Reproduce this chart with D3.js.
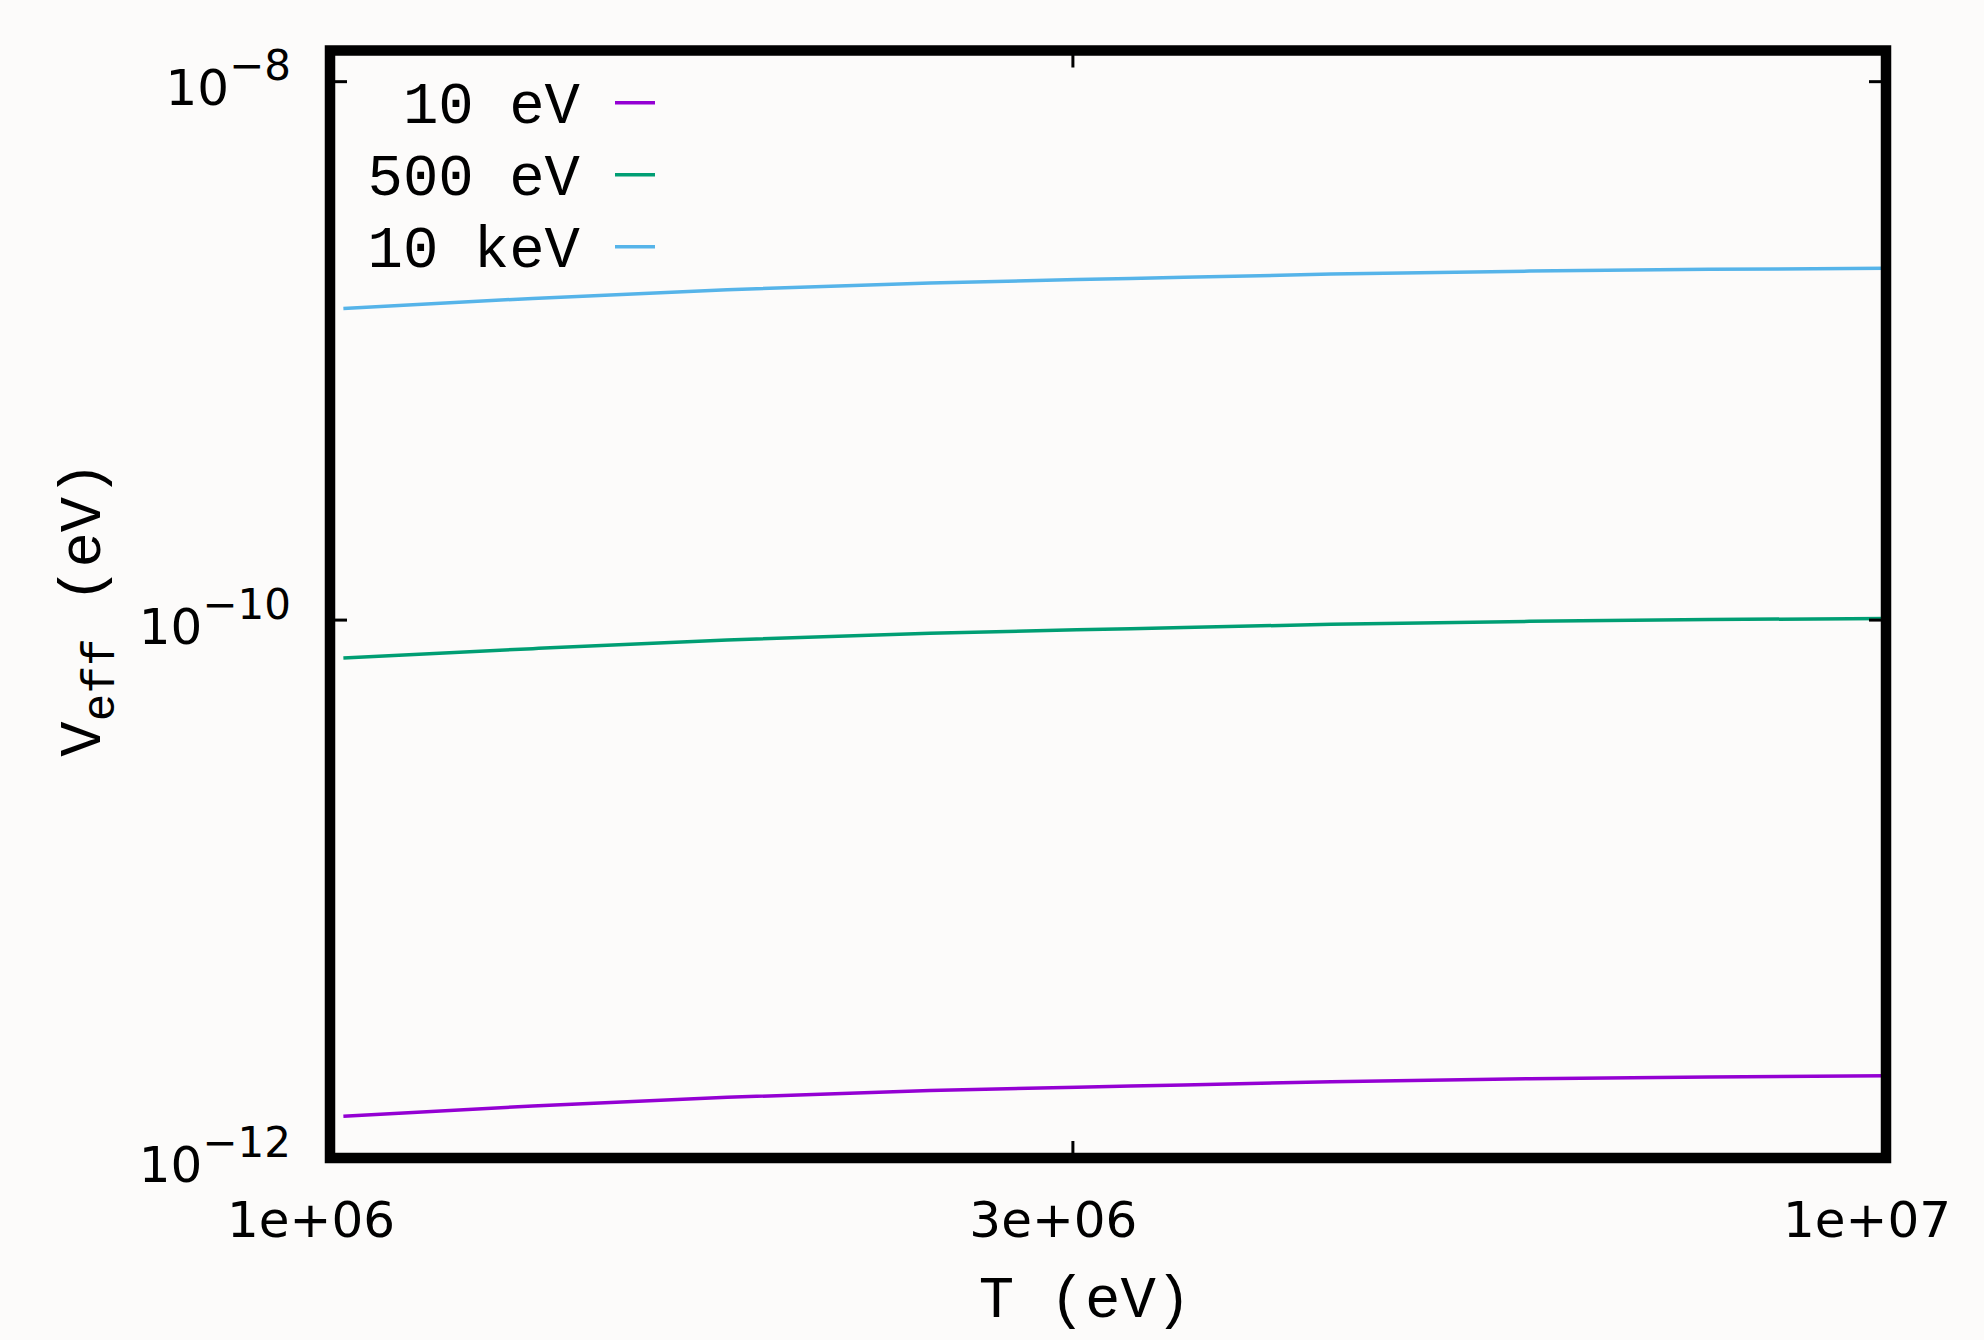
<!DOCTYPE html>
<html>
<head>
<meta charset="utf-8">
<script src="https://cdn.jsdelivr.net/npm/d3@7"></script>
<style>
  html, body { margin: 0; padding: 0; background: #fcfbfa; }
  svg { display: block; }
</style>
</head>
<body>
<svg id="chart" width="1984" height="1340"></svg>
<script>
// ---- data ----
const T = [1.02e6, 1.35e6, 1.8e6, 2.43e6, 3.27e6, 4.4e6, 5.9e6, 7.7e6, 1.0e7];
const v10eV  = [1.43e-12, 1.56e-12, 1.68e-12, 1.78e-12, 1.85e-12, 1.92e-12, 1.97e-12, 2.00e-12, 2.02e-12];
const v500eV = [7.2e-11, 7.8e-11, 8.4e-11, 8.9e-11, 9.25e-11, 9.6e-11, 9.85e-11, 1.0e-10, 1.01e-10];
const v10keV = [1.43e-9, 1.56e-9, 1.68e-9, 1.78e-9, 1.85e-9, 1.92e-9, 1.97e-9, 2.00e-9, 2.02e-9];
const seriesNames = ["10 eV", "500 eV", "10 keV"];
const seriesColors = ["#9400d3", "#009e73", "#56b4e9"];
const xTicks = [1e6, 3e6, 1e7];
const xTickLabels = ["1e+06", "3e+06", "1e+07"];
const yTicks = [1e-12, 1e-10, 1e-8];
const yTickExps = ["\u221212", "\u221210", "\u22128"];
const xDomain = [1e6, 1e7];
const yDomain = [1e-12, 1.3e-8];

// ---- layout ----
const L = 330, R = 1886, TOP = 50.5, B = 1158;
const svg = d3.select("#chart");
const x = d3.scaleLog().domain(xDomain).range([L, R]);
const y = d3.scaleLog().domain(yDomain).range([B, TOP]);

const monoFont = "'Liberation Mono', 'DejaVu Sans Mono', monospace";
const sansFont = "'DejaVu Sans', sans-serif";
const monoSize = 59;

// lines
const series = [v10eV, v500eV, v10keV];
const line = d3.line()
  .x(d => x(d[0]))
  .y(d => y(d[1]))
  .curve(d3.curveMonotoneX);
series.forEach((vals, i) => {
  svg.append("path")
    .datum(T.map((t, j) => [t, vals[j]]))
    .attr("fill", "none")
    .attr("stroke", seriesColors[i])
    .attr("stroke-width", 3.5)
    .attr("d", line);
});

// axes (ticks inward)
const tickLen = 17;
function styleAxis(g) {
  g.select(".domain").remove();
  g.selectAll(".tick line").attr("stroke", "#000").attr("stroke-width", 3);
}
svg.append("g").attr("transform", `translate(0,${B})`)
  .call(d3.axisBottom(x).tickValues(xTicks).tickSize(-tickLen).tickFormat(""))
  .call(styleAxis);
svg.append("g").attr("transform", `translate(0,${TOP})`)
  .call(d3.axisTop(x).tickValues(xTicks).tickSize(-tickLen).tickFormat(""))
  .call(styleAxis);
svg.append("g").attr("transform", `translate(${L},0)`)
  .call(d3.axisLeft(y).tickValues(yTicks).tickSize(-tickLen).tickFormat(""))
  .call(styleAxis);
svg.append("g").attr("transform", `translate(${R},0)`)
  .call(d3.axisRight(y).tickValues(yTicks).tickSize(-tickLen).tickFormat(""))
  .call(styleAxis);

// x tick labels
xTicks.forEach((t, i) => {
  svg.append("text")
    .attr("x", x(t) - 19)
    .attr("y", B + 79)
    .attr("text-anchor", "middle")
    .attr("font-family", sansFont)
    .attr("font-size", 50)
    .attr("fill", "#000")
    .text(xTickLabels[i]);
});

// y tick labels (10^n)
yTicks.forEach((t, i) => {
  const txt = svg.append("text")
    .attr("x", L - 39)
    .attr("y", y(t) + 24)
    .attr("text-anchor", "end")
    .attr("font-family", sansFont)
    .attr("font-size", 50)
    .attr("fill", "#000");
  txt.append("tspan").text("10");
  txt.append("tspan").attr("dy", -25).attr("font-size", 42).text(yTickExps[i]);
});

// frame
svg.append("rect")
  .attr("x", L).attr("y", TOP)
  .attr("width", R - L).attr("height", B - TOP)
  .attr("fill", "none")
  .attr("stroke", "#000")
  .attr("stroke-width", 10.5);

// axis titles
svg.append("text")
  .attr("x", 1085).attr("y", 1317)
  .attr("text-anchor", "middle")
  .attr("font-family", monoFont)
  .attr("font-size", monoSize)
  .attr("fill", "#000")
  .text("T (eV)");

const yl = svg.append("text")
  .attr("transform", "translate(100,609) rotate(-90)")
  .attr("text-anchor", "middle")
  .attr("font-family", monoFont)
  .attr("font-size", monoSize)
  .attr("fill", "#000");
yl.append("tspan").text("V");
yl.append("tspan").attr("dy", 14).attr("font-size", 46).text("eff");
yl.append("tspan").attr("dy", -14).text(" (eV)");

// legend
const legY0 = 102.7, legDy = 72;
seriesNames.forEach((name, i) => {
  const cy = legY0 + i * legDy;
  svg.append("text")
    .attr("x", 580).attr("y", cy + 20)
    .attr("text-anchor", "end")
    .attr("font-family", monoFont)
    .attr("font-size", monoSize)
    .attr("fill", "#000")
    .attr("xml:space", "preserve")
    .style("white-space", "pre")
    .text(name);
  svg.append("line")
    .attr("x1", 615).attr("x2", 655)
    .attr("y1", cy).attr("y2", cy)
    .attr("stroke", seriesColors[i])
    .attr("stroke-width", 3.5);
});
</script>
</body>
</html>
